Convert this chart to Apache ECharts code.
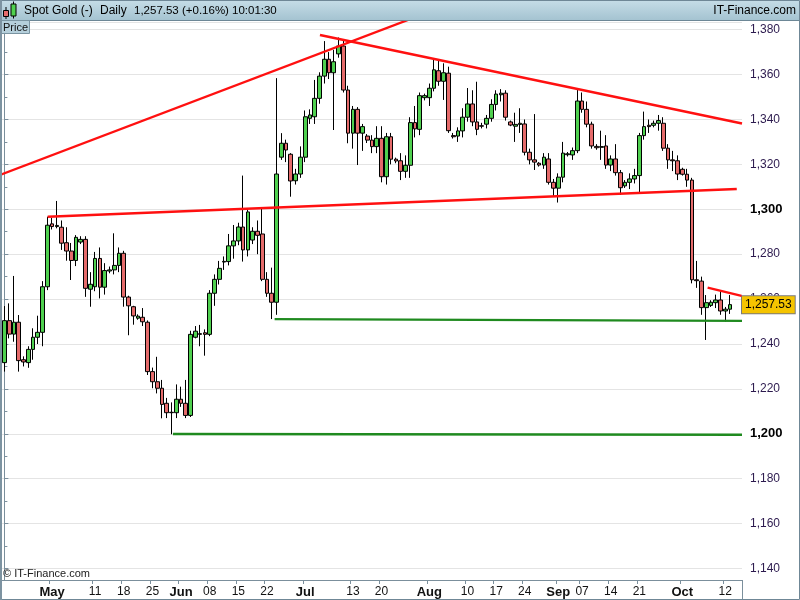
<!DOCTYPE html>
<html><head><meta charset="utf-8">
<script src="https://cdn.jsdelivr.net/npm/echarts/dist/echarts.min.js"></script>
<style>html,body{margin:0;padding:0;background:#fff}#c{width:800px;height:600px}</style>
</head><body><div id="c"></div>
<script>
// trading days (Sun-Fri sessions), 2016
const dates = [
'04-19','04-20','04-21','04-22','04-24','04-25','04-26','04-27','04-28','04-29',
'05-01','05-02','05-03','05-04','05-05','05-06','05-08','05-09','05-10','05-11','05-12','05-13','05-15','05-16','05-17','05-18','05-19','05-20','05-22','05-23','05-24','05-25','05-26','05-27','05-29','05-30','05-31',
'06-01','06-02','06-03','06-05','06-06','06-07','06-08','06-09','06-10','06-12','06-13','06-14','06-15','06-16','06-17','06-19','06-20','06-21','06-22','06-23','06-24','06-26','06-27','06-28','06-29','06-30',
'07-01','07-03','07-04','07-05','07-06','07-07','07-08','07-10','07-11','07-12','07-13','07-14','07-15','07-17','07-18','07-19','07-20','07-21','07-22','07-24','07-25','07-26','07-27','07-28','07-29','07-31',
'08-01','08-02','08-03','08-04','08-05','08-07','08-08','08-09','08-10','08-11','08-12','08-14','08-15','08-16','08-17','08-18','08-19','08-21','08-22','08-23','08-24','08-25','08-26','08-28','08-29','08-30','08-31',
'09-01','09-02','09-04','09-05','09-06','09-07','09-08','09-09','09-11','09-12','09-13','09-14','09-15','09-16','09-18','09-19','09-20','09-21','09-22','09-23','09-25','09-26','09-27','09-28','09-29','09-30',
'10-02','10-03','10-04','10-05','10-06','10-07','10-09','10-10','10-11','10-12','10-13'
];
const opens = [
1231.7,1250.4,1244.4,1249.7,1233.0,1231.7,1237.6,1243.0,1245.2,1265.5,
1293.5,1292.3,1292.0,1285.1,1281.4,1277.2,1285.4,1286.6,1264.4,1265.5,
1278.1,1265.3,1272.5,1273.0,1275.0,1280.4,1260.9,1256.6,1251.5,1251.9,
1249.7,1227.7,1223.2,1220.3,1213.6,1209.6,1209.4,1215.4,1213.6,1208.2,
1243.0,1244.6,1245.0,1244.3,1262.6,1268.8,1276.5,1276.7,1283.7,1285.9,
1292.1,1281.9,1286.3,1290.2,1289.0,1268.8,1262.6,1258.6,1323.2,1329.4,
1324.5,1312.7,1315.7,1323.2,1340.5,1341.2,1349.4,1359.3,1366.8,1360.8,
1369.2,1372.7,1353.1,1333.9,1344.5,1333.9,1332.6,1330.8,1327.9,1331.6,
1314.5,1332.3,1322.3,1321.6,1316.9,1319.6,1338.6,1335.6,1349.7,1349.7,
1353.9,1361.7,1357.0,1360.6,1332.8,1332.6,1334.9,1341.0,1346.9,1338.9,
1337.2,1337.9,1340.5,1346.7,1351.0,1351.7,1338.9,1337.0,1337.8,1338.0,
1325.4,1322.0,1320.5,1319.7,1322.4,1312.0,1309.4,1314.3,1324.3,1324.2,
1326.1,1348.2,1344.5,1337.9,1328.0,1327.6,1328.2,1319.7,1322.4,1316.3,
1310.4,1312.0,1313.5,1315.0,1332.8,1337.4,1337.4,1338.3,1338.3,1327.2,
1322.0,1321.6,1317.8,1315.6,1313.0,1268.6,1268.0,1256.2,1257.2,1258.4,
1259.6,1254.7,1255.5
];
const closes = [
1250.4,1244.4,1249.7,1232.6,1232.0,1237.6,1243.0,1245.2,1265.5,1292.9,
1292.3,1292.8,1284.9,1281.4,1277.2,1287.5,1286.6,1264.8,1266.6,1278.1,
1265.3,1272.7,1273.0,1275.0,1280.4,1260.9,1257.0,1252.5,1252.4,1249.9,
1227.7,1223.2,1220.3,1213.1,1209.4,1209.4,1215.4,1213.6,1208.2,1244.3,
1245.7,1244.3,1244.3,1262.6,1268.8,1273.7,1276.8,1283.7,1285.9,1292.1,
1281.9,1298.8,1290.2,1288.4,1268.8,1262.6,1258.6,1315.7,1329.4,1326.4,
1312.6,1315.7,1323.2,1341.2,1342.0,1349.4,1359.3,1366.8,1360.8,1365.7,
1372.7,1353.1,1333.9,1344.5,1333.9,1336.8,1330.8,1327.9,1331.6,1314.5,
1332.3,1322.3,1321.5,1316.9,1319.6,1338.6,1335.8,1350.6,1350.6,1353.9,
1362.1,1357.0,1360.8,1335.0,1332.3,1334.9,1341.0,1346.9,1338.9,1335.6,
1337.0,1340.5,1346.7,1351.3,1351.7,1341.0,1337.5,1337.8,1338.3,1325.4,
1322.0,1321.0,1319.7,1323.2,1312.0,1309.4,1314.3,1325.0,1324.7,1326.1,
1348.2,1344.5,1337.9,1328.2,1327.4,1327.9,1319.7,1322.4,1316.3,1309.6,
1312.0,1313.5,1315.0,1332.8,1336.8,1336.8,1338.3,1339.5,1327.2,1322.0,
1321.6,1315.7,1315.6,1313.0,1268.6,1268.2,1256.2,1258.4,1258.6,1259.6,
1254.7,1255.5,1257.53
];
const lows = [
1227.7,1242.5,1241.0,1227.7,1230.0,1229.4,1233.0,1240.0,1239.0,1264.0,
1291.0,1291.5,1281.9,1277.1,1268.5,1274.7,1284.5,1261.0,1256.6,1263.5,
1260.3,1262.0,1271.5,1271.0,1272.0,1256.6,1243.9,1248.6,1250.8,1248.0,
1226.2,1220.3,1218.0,1206.9,1207.0,1199.8,1207.0,1212.0,1207.0,1207.5,
1242.5,1239.0,1234.8,1243.5,1257.0,1266.5,1273.0,1275.0,1278.0,1284.0,
1276.7,1279.0,1284.5,1280.0,1268.0,1261.0,1251.1,1253.0,1322.0,1321.0,
1305.6,1311.0,1314.0,1321.0,1338.0,1338.0,1347.0,1356.0,1358.0,1335.3,
1367.5,1352.0,1329.4,1327.0,1319.7,1326.0,1329.5,1325.0,1325.0,1312.0,
1311.0,1320.0,1320.5,1313.0,1314.0,1314.0,1332.0,1333.0,1348.5,1346.0,
1352.5,1355.0,1348.7,1334.0,1331.5,1330.0,1332.0,1339.0,1337.0,1333.0,
1336.0,1336.0,1339.0,1344.0,1348.0,1339.5,1337.0,1330.0,1334.0,1324.0,
1320.0,1317.5,1319.0,1318.0,1311.0,1305.5,1303.0,1312.0,1323.5,1322.0,
1325.0,1343.0,1336.5,1327.0,1326.5,1322.0,1318.0,1317.0,1315.0,1306.4,
1309.5,1309.0,1311.5,1307.0,1331.0,1334.0,1336.5,1335.0,1326.0,1318.0,
1317.0,1313.0,1315.0,1310.0,1267.0,1265.0,1253.0,1241.8,1256.5,1256.0,
1253.0,1250.0,1253.4
];
const highs = [
1256.9,1258.1,1270.3,1252.9,1234.5,1239.0,1247.0,1252.6,1268.0,1296.7,
1296.2,1303.7,1295.0,1292.0,1285.0,1288.5,1288.0,1288.0,1272.0,1281.0,
1283.0,1276.0,1274.5,1289.3,1283.0,1281.5,1261.5,1257.0,1253.2,1256.0,
1250.5,1229.5,1234.3,1224.0,1216.0,1214.0,1222.0,1221.0,1224.0,1245.9,
1248.0,1248.5,1246.5,1264.0,1271.0,1277.0,1279.0,1289.0,1293.0,1294.0,
1315.0,1300.5,1292.0,1295.0,1301.0,1272.0,1274.0,1358.4,1333.9,1331.0,
1325.0,1318.0,1328.0,1344.0,1344.5,1357.6,1361.0,1374.9,1370.0,1371.0,
1376.5,1375.0,1355.0,1346.0,1345.5,1338.0,1333.5,1333.0,1337.0,1337.0,
1334.0,1334.0,1323.0,1325.0,1324.0,1341.0,1346.0,1352.0,1351.5,1356.0,
1366.8,1366.5,1365.0,1363.5,1334.0,1336.5,1345.0,1354.0,1353.0,1356.8,
1338.5,1342.0,1349.0,1353.0,1353.5,1353.0,1339.5,1343.0,1345.0,1340.0,
1327.0,1342.4,1321.0,1325.0,1325.0,1313.5,1316.0,1330.0,1325.5,1327.5,
1353.1,1352.0,1348.0,1339.0,1329.0,1335.0,1333.0,1324.0,1329.0,1317.5,
1313.0,1316.0,1318.0,1334.0,1343.5,1340.0,1339.5,1342.0,1341.0,1329.0,
1326.0,1324.0,1318.5,1318.0,1314.0,1277.0,1270.0,1261.8,1259.5,1262.0,
1263.6,1256.5,1261.8
];
// x-axis tick labels
const tickLabels = {
'05-01':'May','05-11':'11','05-18':'18','05-25':'25','06-01':'Jun','06-08':'08','06-15':'15','06-22':'22',
'07-01':'Jul','07-13':'13','07-20':'20','08-01':'Aug','08-10':'10','08-17':'17','08-24':'24',
'09-01':'Sep','09-07':'07','09-14':'14','09-21':'21','10-02':'Oct','10-12':'12'
};
const monthNames = ['May','Jun','Jul','Aug','Sep','Oct'];
// drawn trend lines: [index, price] end points
const redRising  = [[-0.92,1315.3],[84.54,1384.3]];
const redFalling = [[66.1,1377.6],[154.5,1338.2]];
const redFlat    = [[9.07,1296.7],[153.4,1309.0]];
const redShort   = [[147.3,1265.1],[154.4,1261.4]];
const greenUpper = [[56.6,1251.1],[154.5,1250.3]];
const greenLower = [[35.3,1199.9],[154.5,1199.6]];
const lastPrice = 1257.53;
const lastLabel = '1,257.53';

const FONT = '"Liberation Sans", Arial, sans-serif';
const NARROW = '"Liberation Sans Narrow", "Liberation Sans", Arial';
const cats = dates.concat(['', '']);
const candleData = dates.map((d, i) => [opens[i], closes[i], lows[i], highs[i]]);
function fmt(v){ return Math.round(v).toString().replace(/\B(?=(\d{3})+(?!\d))/g, ','); }
function tl(data, color){
  return {type:'line', xAxisIndex:1, yAxisIndex:0, data:data, symbol:'none', clip:true, silent:true,
    lineStyle:{color:color, width:2.4}, z:5, animation:false};
}
const chart = echarts.init(document.getElementById('c'), null, {renderer:'canvas'});
chart.setOption({
  animation:false,
  backgroundColor:'#ffffff',
  grid:{left:2, right:58, top:22, bottom:20, containLabel:false},
  xAxis:[{
    type:'category', data:cats, boundaryGap:true,
    axisLine:{show:true, lineStyle:{color:'#7b8f9c', width:1}},
    axisTick:{show:true, length:4, interval:(i, v) => !!tickLabels[v], lineStyle:{color:'#7b8f9c'}},
    axisLabel:{show:true, interval:0, margin:6, fontFamily:NARROW, fontSize:12, color:'#111',
      formatter:(v) => { const t = tickLabels[v]; if (!t) return ''; return monthNames.indexOf(t) >= 0 ? '{m|' + t + '}' : '{d|' + t + '}'; },
      rich:{m:{fontWeight:'bold', fontSize:13, fontFamily:NARROW, color:'#111'},
            d:{fontSize:12, fontFamily:NARROW, color:'#111'}}},
    splitLine:{show:false}
  },{
    type:'value', min:-0.5, max:cats.length - 0.5, show:false
  }],
  yAxis:[{
    type:'value', position:'right', min:1134.9, max:1383.4, splitNumber:12, scale:true,
    axisLine:{show:true, lineStyle:{color:'#7b8f9c', width:1}},
    axisTick:{show:true, length:4, lineStyle:{color:'#7b8f9c'}},
    minorTick:{show:true, splitNumber:2, length:3, lineStyle:{color:'#7b8f9c'}},
    splitLine:{show:true, lineStyle:{color:'#e4e4e4', width:1}},
    axisLabel:{show:true, margin:8, showMinLabel:false, showMaxLabel:false,
      formatter:(v) => { if (Math.abs(v - Math.round(v/20)*20) > 0.01) return ''; return (Math.round(v) % 100 === 0) ? '{b|' + fmt(v) + '}' : '{n|' + fmt(v) + '}'; },
      rich:{n:{fontSize:12, fontFamily:FONT, color:'#2c1a4e'}, b:{fontSize:13, fontWeight:'bold', fontFamily:FONT, color:'#000'}}}
  }],
  series:[{
    type:'candlestick', xAxisIndex:0, yAxisIndex:0, data:candleData, barWidth:4.2,
    itemStyle:{color:'#4fd04f', color0:'#e56b6b', borderColor:'#000', borderColor0:'#000', borderColorDoji:'#000', borderWidth:1},
    emphasis:{disabled:true}, z:3
  },
  tl(redRising,'#ff1010'), tl(redFalling,'#ff1010'), tl(redFlat,'#ff1010'), tl(redShort,'#ff1010'),
  tl(greenUpper,'#1f8a1f'), tl(greenLower,'#1f8a1f'),
  {type:'line', xAxisIndex:1, yAxisIndex:0, data:[], silent:true, z:8,
    markLine:{silent:true, symbol:['none','none'], animation:false,
      lineStyle:{color:'rgba(0,0,0,0)', width:1, type:'solid'},
      data:[{yAxis:lastPrice}],
      label:{show:true, position:'end', distance:0, formatter:lastLabel, color:'#000', fontSize:12, fontFamily:FONT,
        backgroundColor:'#f5c400', borderColor:'#7a7a7a', borderWidth:1, padding:[3,3,2,3]}}}
  ],
  graphic:[
    {type:'rect', shape:{x:0, y:0, width:800, height:21}, z:10,
      style:{fill:new echarts.graphic.LinearGradient(0,0,0,1,[{offset:0,color:'#c6dde7'},{offset:1,color:'#a3c2d0'}])}},
    {type:'line', shape:{x1:0, y1:20.5, x2:800, y2:20.5}, z:11, style:{stroke:'#6d8796', lineWidth:1}},
    // icon
    {type:'line', shape:{x1:6, y1:7, x2:6, y2:19}, z:11, style:{stroke:'#000', lineWidth:1}},
    {type:'rect', shape:{x:3.5, y:10.5, width:5, height:6}, z:12, style:{fill:'#e56b6b', stroke:'#000', lineWidth:1}},
    {type:'line', shape:{x1:13.5, y1:1.5, x2:13.5, y2:18.5}, z:11, style:{stroke:'#000', lineWidth:1}},
    {type:'rect', shape:{x:11, y:4, width:5, height:12}, z:12, style:{fill:'#4fd04f', stroke:'#000', lineWidth:1}},
    {type:'text', x:24, y:11, z:12, style:{text:'Spot Gold (-)', font:'12px ' + FONT, fill:'#000', verticalAlign:'middle'}},
    {type:'text', x:100, y:11, z:12, style:{text:'Daily', font:'12px ' + FONT, fill:'#000', verticalAlign:'middle'}},
    {type:'text', x:134, y:11, z:12, style:{text:'1,257.53 (+0.16%)', font:'11.5px ' + FONT, fill:'#000', verticalAlign:'middle'}},
    {type:'text', x:232, y:11, z:12, style:{text:'10:01:30', font:'11.5px ' + FONT, fill:'#000', verticalAlign:'middle'}},
    {type:'text', x:796, y:11, z:12, style:{text:'IT-Finance.com', font:'12px ' + FONT, fill:'#000', align:'right', verticalAlign:'middle'}},
    // Price tab
    {type:'rect', shape:{x:0.5, y:20.5, width:29, height:13}, z:12, style:{fill:'#b5cfdb', stroke:'#7a94a1', lineWidth:1}},
    {type:'text', x:3, y:27.5, z:13, style:{text:'Price', font:'11px ' + FONT, fill:'#111', verticalAlign:'middle'}},
    // copyright
    {type:'text', x:3, y:574, z:12, style:{text:'\u00a9 IT-Finance.com', font:'11px ' + FONT, fill:'#222', verticalAlign:'middle'}},
    // y-axis line continuing into bottom band
    {type:'line', shape:{x1:742.5, y1:580, x2:742.5, y2:600}, z:12, style:{stroke:'#7b8f9c', lineWidth:1}},
    // outer frame
    {type:'rect', shape:{x:0.5, y:0.5, width:799, height:599}, z:20, style:{fill:'none', stroke:'#6f8796', lineWidth:1}},
    {type:'line', shape:{x1:1, y1:0, x2:1, y2:600}, z:20, style:{stroke:'#7d93a1', lineWidth:2}}
  ]
});
</script></body></html>
